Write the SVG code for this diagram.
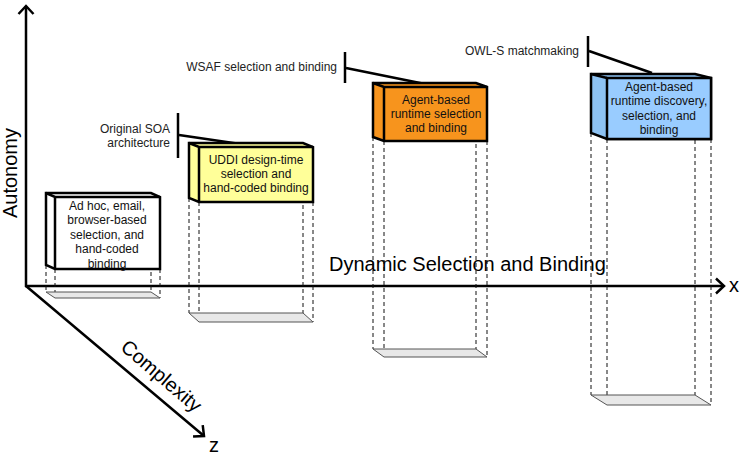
<svg xmlns="http://www.w3.org/2000/svg" width="740" height="458" viewBox="0 0 740 458">
<style>
text{font-family:"Liberation Sans",Arial,sans-serif;}
.ax{stroke:#000;stroke-width:2.5;fill:none;}
.axl{font-size:20px;fill:#000;}
.bt{font-size:12px;fill:#111;text-anchor:middle;}
.ct{font-size:12px;fill:#222;text-anchor:end;}
.box{stroke:#000;stroke-width:2.5;stroke-linejoin:miter;}
.dash{stroke:#111;stroke-width:1;stroke-dasharray:4,3;fill:none;}
.floor{fill:#e8e8e8;stroke:#555;stroke-width:1;}
.lead{stroke:#000;stroke-width:2.5;fill:none;}
</style>
<defs>
<marker id="arr" markerUnits="userSpaceOnUse" markerWidth="16" markerHeight="18" refX="8" refY="7.5" orient="auto" overflow="visible">
<path d="M0,0 L8,7.5 L0,15" fill="none" stroke="#000" stroke-width="2.5"/>
</marker>
</defs>
<g id="axes">
<line class="ax" x1="26" y1="287" x2="26" y2="6" marker-end="url(#arr)"/>
<line class="ax" x1="25" y1="286" x2="724" y2="286" marker-end="url(#arr)"/>
<line class="ax" x1="26" y1="286" x2="204" y2="436" marker-end="url(#arr)"/>
<text class="axl" x="729" y="292">x</text>
<text class="axl" x="209" y="452">z</text>
<text class="axl" text-anchor="middle" transform="translate(16.5,173) rotate(-90)">Autonomy</text>
<text class="axl" font-size="21" text-anchor="middle" transform="translate(157,381) rotate(40.5)">Complexity</text>
<text class="axl" x="329" y="271">Dynamic Selection and Binding</text>
</g>
<g id="connectors">
<line class="lead" x1="178" y1="113" x2="178" y2="158"/>
<line class="lead" x1="179" y1="135" x2="247" y2="145"/>
<line class="lead" x1="345" y1="52" x2="345" y2="83"/>
<line class="lead" x1="346" y1="68" x2="425" y2="84"/>
<line class="lead" x1="588" y1="36" x2="588" y2="67"/>
<line class="lead" x1="589" y1="51" x2="652" y2="73"/>
</g>
<g id="label-soa">
<text class="ct" x="170" y="133">Original SOA</text>
<text class="ct" x="170" y="147">architecture</text>
</g>
<g id="label-wsaf">
<text class="ct" x="337" y="71">WSAF selection and binding</text>
</g>
<g id="label-owls">
<text class="ct" x="579" y="55">OWL-S matchmaking</text>
</g>
<g id="box1">
<path class="dash" d="M46,265V292M55,269V298M151,265V292M160,269V298"/>
<polygon class="floor" points="46,292 151,292 160,298 55,298"/>
<polygon class="box" fill="#ffffff" points="46,193 151,193 160,197 160,269 55,269 46,265"/>
<path class="box" fill="none" d="M46,193L55,197H160M55,197V269"/>
<text class="bt" x="107" y="209.5">Ad hoc, email,</text>
<text class="bt" x="107" y="224">browser-based</text>
<text class="bt" x="107" y="238.5">selection, and</text>
<text class="bt" x="107" y="253">hand-coded</text>
<text class="bt" x="107" y="267.5">binding</text>
</g>
<g id="box2">
<path class="dash" d="M189,198V313M199,202V322M303,198V313M313,202V322"/>
<polygon class="floor" points="189,313 303,313 313,322 199,322"/>
<polygon class="box" fill="#ffff99" points="189,143 303,143 313,147 313,202 199,202 189,198"/>
<path class="box" fill="none" d="M189,143L199,147H313M199,147V202"/>
<text class="bt" x="256" y="164">UDDI design-time</text>
<text class="bt" x="256" y="178">selection and</text>
<text class="bt" x="256" y="192">hand-coded binding</text>
</g>
<g id="box3">
<path class="dash" d="M373,137V349M384,141V357M476,137V349M487,141V357"/>
<polygon class="floor" points="373,349 476,349 487,357 384,357"/>
<polygon class="box" fill="#f7941d" points="373,83 476,83 487,87 487,141 384,141 373,137"/>
<path class="box" fill="none" d="M373,83L384,87H487M384,87V141"/>
<text class="bt" x="436" y="104">Agent-based</text>
<text class="bt" x="436" y="118">runtime selection</text>
<text class="bt" x="436" y="132">and binding</text>
</g>
<g id="box4">
<path class="dash" d="M591,133V395M607,139V405M695,133V395M711,139V405"/>
<polygon class="floor" points="591,395 695,395 711,405 607,405"/>
<polygon class="box" fill="#8dc2f2" points="591,74 695,74 711,78 711,139 607,139 591,133"/>
<rect class="box" x="607" y="78" width="104" height="61" fill="#99ccff"/>
<path class="box" fill="none" d="M591,74L607,78"/>
<text class="bt" x="659" y="91">Agent-based</text>
<text class="bt" x="659" y="105">runtime discovery,</text>
<text class="bt" x="659" y="120">selection, and</text>
<text class="bt" x="659" y="134">binding</text>
</g>
</svg>
